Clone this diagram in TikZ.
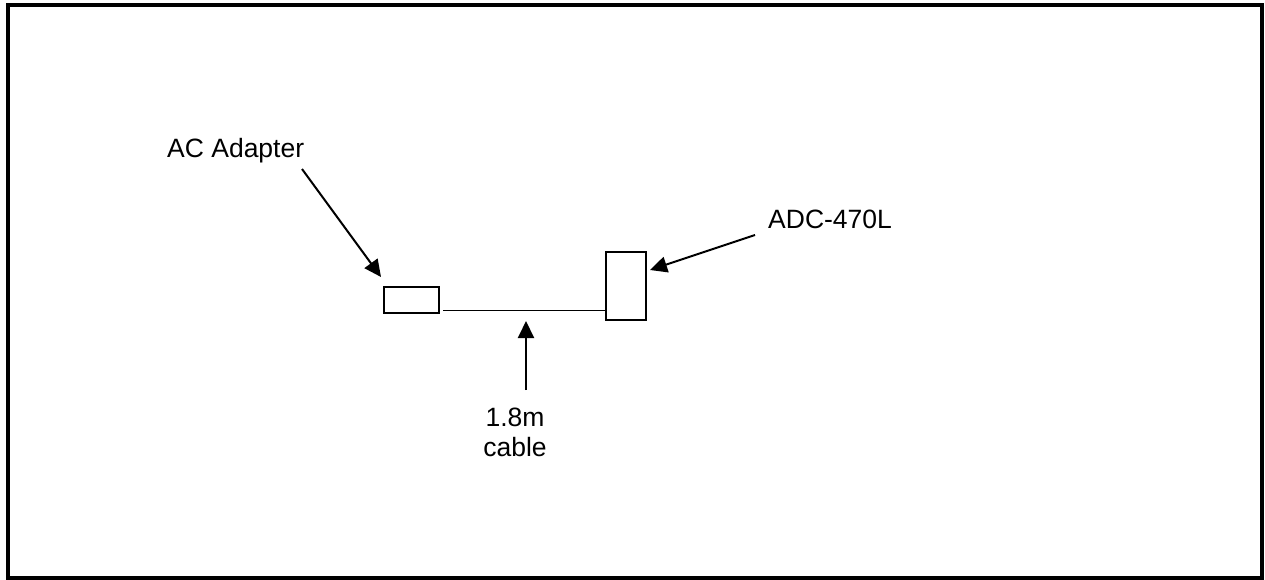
\documentclass[tikz,border=0pt]{standalone}
\usepackage{fontspec}
\setmainfont{Liberation Sans}
\usetikzlibrary{positioning,arrows.meta,calc}
\tikzset{
  lbl/.style={inner sep=0pt,font=\fontsize{26.5}{30}\selectfont,align=center},
  unit/.style={draw,line width=2pt,inner sep=0pt,fill=white},
  pointer/.style={-{Triangle[length=17pt,width=16pt]},line width=2pt},
}
\begin{document}
\begin{tikzpicture}[x=1pt,y=-1pt]
  \useasboundingbox (0,0) rectangle (1265,580);
  \draw[line width=3.5pt] (8,5) rectangle (1262,578);
  % parts
  \node[unit,minimum width=55pt,minimum height=26pt] (adapter) at (411.5,300) {};
  \node[unit,minimum width=40pt,minimum height=68pt] (device) at (626,286) {};
  % labels
  \node[lbl,anchor=base west] (aclbl) at (167,158) {AC Adapter};
  \node[lbl,anchor=base west] (adclbl) at (768,228) {ADC-470L};
  \node[lbl,anchor=north] (cablelbl) at (515,408) {1.8m\\cable};
  % cable
  \coordinate (cableL) at (443,310);
  \draw[line width=1pt] (cableL) -- (cableL -| device.west);
  % pointers
  \coordinate (acTail) at (302,169);
  \coordinate (acTip) at (381,277);
  \coordinate (adcTail) at (755,235);
  \coordinate (adcTip) at (650,270);
  \coordinate (cableTail) at (526,390);
  \coordinate (cableTip) at (526,321);
  \draw[pointer] (acTail) -- (acTip);
  \draw[pointer] (adcTail) -- (adcTip);
  \draw[pointer] (cableTail) -- (cableTip);
\end{tikzpicture}
\end{document}
